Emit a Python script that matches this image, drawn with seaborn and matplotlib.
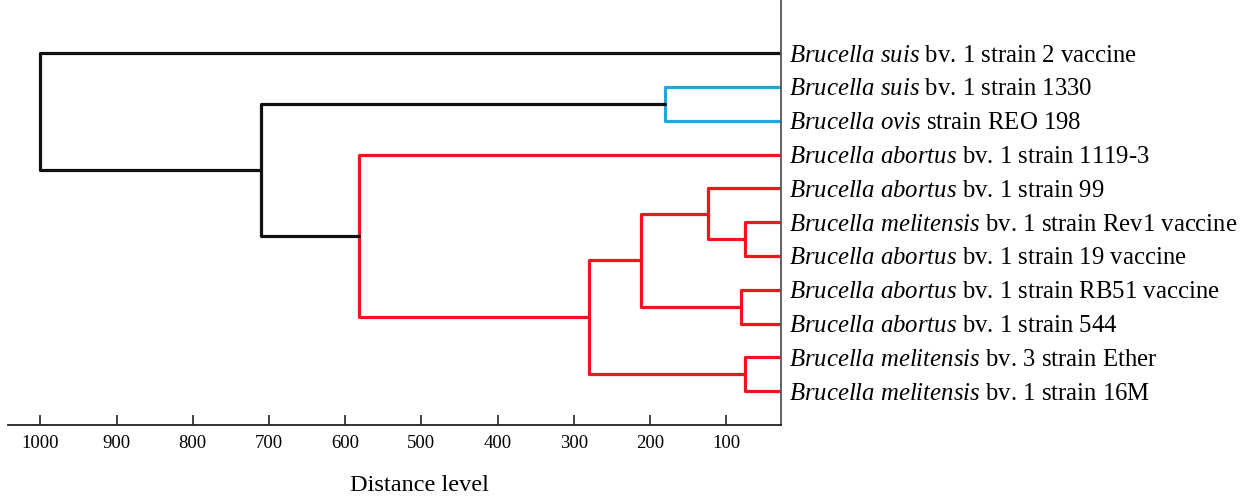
import pandas as pd
import matplotlib.pyplot as plt
import seaborn as sns

# Folhas do dendrograma (de cima para baixo)
leaf_species = [
    "Brucella suis", "Brucella suis", "Brucella ovis", "Brucella abortus",
    "Brucella abortus", "Brucella melitensis", "Brucella abortus",
    "Brucella abortus", "Brucella abortus", "Brucella melitensis",
    "Brucella melitensis",
]
leaf_rest = [
    "bv. 1 strain 2 vaccine", "bv. 1 strain 1330", "strain REO 198",
    "bv. 1 strain 1119-3", "bv. 1 strain 99", "bv. 1 strain Rev1 vaccine",
    "bv. 1 strain 19 vaccine", "bv. 1 strain RB51 vaccine", "bv. 1 strain 544",
    "bv. 3 strain Ether", "bv. 1 strain 16M",
]

# Fusões: filho esquerdo, filho direito, distância, cor (nós novos = 11, 12, ...)
merge_left = [5, 4, 7, 12, 9, 14, 3, 1, 18, 0]
merge_right = [6, 11, 8, 13, 10, 15, 16, 2, 17, 19]
merge_height = [75, 124, 81, 212, 75, 280, 582, 181, 710, 1000]
merge_color = ["red", "red", "red", "red", "red", "red", "red", "cyan", "black", "black"]

x_ticks = [1000, 900, 800, 700, 600, 500, 400, 300, 200, 100]

cores = {"red": "#f01420", "cyan": "#1ea8e0", "black": "#111111"}

# Monta os segmentos em U de cada fusão
n = len(leaf_species)
pos = {i: (0.0, float(i)) for i in range(n)}
linhas = []
for k in range(len(merge_height)):
    ha, ya = pos[merge_left[k]]
    hb, yb = pos[merge_right[k]]
    h = merge_height[k]
    for ordem, (x, y) in enumerate([(ha, ya), (h, ya), (h, yb), (hb, yb)]):
        linhas.append({"link": k, "ordem": ordem, "x": x, "y": y, "grupo": merge_color[k]})
    pos[n + k] = (h, (ya + yb) / 2)
df = pd.DataFrame(linhas)

sns.set_style("white")
plt.rcParams["font.family"] = ["Liberation Serif", "DejaVu Serif"]
plt.rcParams["mathtext.fontset"] = "custom"
plt.rcParams["mathtext.rm"] = "Liberation Serif"
plt.rcParams["mathtext.it"] = "Liberation Serif:italic"
plt.rcParams["text.color"] = "black"
plt.rcParams["axes.labelcolor"] = "black"
plt.rcParams["xtick.color"] = "black"
plt.rcParams["ytick.color"] = "black"

fig = plt.figure(figsize=(12.47, 4.98), dpi=100)
ax = fig.add_axes([8 / 1247, 73 / 498, 773 / 1247, 425 / 498])

sns.lineplot(data=df, x="x", y="y", hue="grupo", units="link", estimator=None,
             sort=False, palette=cores, linewidth=2.3, legend=False, ax=ax)

ax.set_xlim(1042.4, 28.2)
ax.set_ylim(11.0, -1.57)

# Eixo x
ax.set_xticks(x_ticks)
ax.set_xticklabels([str(t) for t in x_ticks], fontsize=13.5)
ax.tick_params(axis="x", direction="in", length=7, width=1.2, color="#222222",
               labelcolor="black", pad=7, bottom=True)
ax.set_xlabel("Distance level", fontsize=17.5, color="black")
ax.xaxis.set_label_coords(0.532, -0.118)

# Rótulos das folhas à direita
labels = []
for esp, resto in zip(leaf_species, leaf_rest):
    esp_tex = esp.replace(" ", r"\ ")
    labels.append(r"$\mathit{" + esp_tex + "}$ " + resto)
ax.set_yticks(range(n))
ax.set_yticklabels(labels, fontsize=17.8)
ax.yaxis.tick_right()
ax.tick_params(axis="y", length=0, pad=6, labelcolor="black")
ax.set_ylabel("")

for lado in ["top", "left"]:
    ax.spines[lado].set_visible(False)
ax.spines["bottom"].set_color("#222222")
ax.spines["bottom"].set_linewidth(1.3)
ax.spines["right"].set_color("#555555")
ax.spines["right"].set_linewidth(1.3)

plt.savefig("out.png", dpi=100)
